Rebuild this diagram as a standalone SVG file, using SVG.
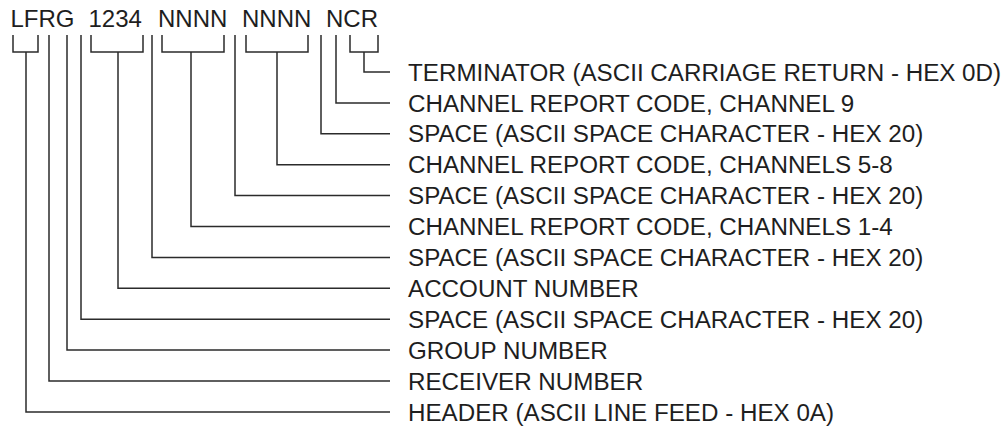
<svg xmlns="http://www.w3.org/2000/svg" width="1008" height="428" viewBox="0 0 1008 428">
<style>
.t{font-family:"Liberation Sans",Arial,sans-serif;fill:#1e1e1e}
.top{font-size:24px}
.lbl{font-size:24.2px}
.c{fill:none;stroke:#2b2b2b;stroke-width:1.5}
</style>
<rect width="1008" height="428" fill="#fff"/>
<g id="code">
<text class="t top" y="27"><tspan x="10.5">LFRG</tspan><tspan x="88.5">1234</tspan><tspan x="158">NNNN</tspan><tspan x="242">NNNN</tspan><tspan x="326">NCR</tspan></text>
</g>
<g id="connectors" class="c">
<path d="M350,35V52H378V35M364,52V72H390"/>
<path d="M336,35V102.9H390"/>
<path d="M321,35V133.8H390"/>
<path d="M246,35V52H308V35M277,52V164.7H390"/>
<path d="M235,35V195.6H390"/>
<path d="M162,35V52H224V35M191,52V226.5H390"/>
<path d="M152,35V257.4H390"/>
<path d="M91,35V52H143V35M118,52V288.3H390"/>
<path d="M81,35V319.2H390"/>
<path d="M67,35V350.1H390"/>
<path d="M49,35V381H390"/>
<path d="M13,35V52H38V35M26,52V412H390"/>
</g>
<g id="label-terminator"><text class="t lbl" x="408" y="80.6">TERMINATOR (ASCII CARRIAGE RETURN - HEX 0D)</text></g>
<g id="label-ch9"><text class="t lbl" x="408" y="111.5">CHANNEL REPORT CODE, CHANNEL 9</text></g>
<g id="label-space4"><text class="t lbl" x="408" y="142.4">SPACE (ASCII SPACE CHARACTER - HEX 20)</text></g>
<g id="label-ch58"><text class="t lbl" x="408" y="173.3">CHANNEL REPORT CODE, CHANNELS 5-8</text></g>
<g id="label-space3"><text class="t lbl" x="408" y="204.2">SPACE (ASCII SPACE CHARACTER - HEX 20)</text></g>
<g id="label-ch14"><text class="t lbl" x="408" y="235.1">CHANNEL REPORT CODE, CHANNELS 1-4</text></g>
<g id="label-space2"><text class="t lbl" x="408" y="266">SPACE (ASCII SPACE CHARACTER - HEX 20)</text></g>
<g id="label-account"><text class="t lbl" x="408" y="296.9">ACCOUNT NUMBER</text></g>
<g id="label-space1"><text class="t lbl" x="408" y="327.8">SPACE (ASCII SPACE CHARACTER - HEX 20)</text></g>
<g id="label-group"><text class="t lbl" x="408" y="358.7">GROUP NUMBER</text></g>
<g id="label-receiver"><text class="t lbl" x="408" y="389.6">RECEIVER NUMBER</text></g>
<g id="label-header"><text class="t lbl" x="408" y="420.5">HEADER (ASCII LINE FEED - HEX 0A)</text></g>
</svg>
